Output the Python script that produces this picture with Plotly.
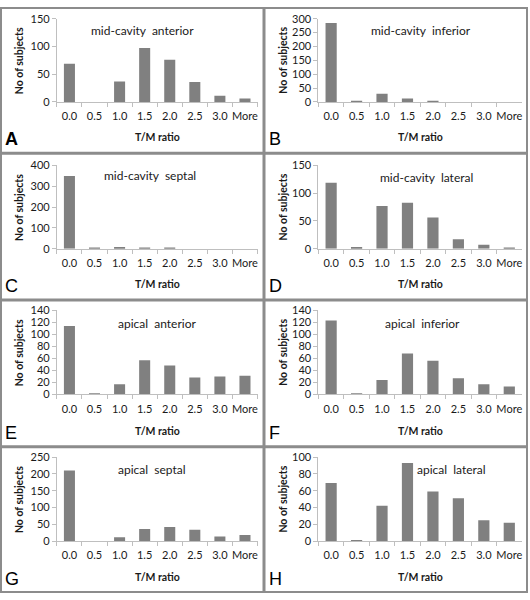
import plotly.graph_objects as go

categories = ["0.0", "0.5", "1.0", "1.5", "2.0", "2.5", "3.0", "More"]

panel_letters = ["A", "B", "C", "D", "E", "F", "G", "H"]
panel_titles = [
    "mid-cavity  anterior", "mid-cavity  inferior",
    "mid-cavity  septal", "mid-cavity  lateral",
    "apical  anterior", "apical  inferior",
    "apical  septal", "apical  lateral",
]

mid_anterior = [69, 0, 37, 97, 76, 36, 11, 6]
mid_inferior = [285, 2, 29, 12, 3, 0, 0, 0]
mid_septal = [350, 1, 8, 5, 1, 0, 0, 0]
mid_lateral = [119, 3, 77, 83, 56, 17, 7, 1]
apical_anterior = [114, 1, 17, 57, 48, 28, 30, 31]
apical_inferior = [123, 1, 24, 68, 56, 27, 17, 13]
apical_septal = [210, 0, 12, 36, 42, 34, 14, 18]
apical_lateral = [69, 1, 42, 93, 59, 51, 25, 22]

series = [mid_anterior, mid_inferior, mid_septal, mid_lateral,
          apical_anterior, apical_inferior, apical_septal, apical_lateral]

y_max = [150, 300, 400, 150, 140, 140, 250, 100]
y_dtick = [50, 50, 100, 50, 20, 20, 50, 20]

x_title = "T/M ratio"
y_title = "No of subjects"

W, H = 530, 600
BAR = "#808080"
AXIS = "#bfbfbf"
FRAME = "#8c8c8c"
FONT = "Lato"
TXT = "#1a1a1a"

fig = go.Figure()

col_x = [(57, 258), (319, 523)]
row_top = [0, 150, 300, 450]
row_plot = [(12, 97), (162, 247), (310, 396), (460, 546)]
title_pos = [(143, 24), (422, 24), (150, 172), (427, 174),
             (157, 323), (423, 323), (152, 473), (452, 473)]


def px(x):
    return x / W


def py(y):
    return 1 - y / H


annotations = []
shapes = []
for i in range(8):
    r, c = divmod(i, 2)
    n = i + 1
    xa = "x" if n == 1 else f"x{n}"
    ya = "y" if n == 1 else f"y{n}"
    fig.add_trace(go.Bar(
        x=categories, y=series[i], marker=dict(color=BAR, line=dict(width=0)),
        xaxis=xa, yaxis=ya, showlegend=False, width=0.44, hoverinfo="skip",
    ))
    x0, x1 = col_x[c]
    yt, yb = row_plot[r]
    xkey = "xaxis" if n == 1 else f"xaxis{n}"
    ykey = "yaxis" if n == 1 else f"yaxis{n}"
    fig.update_layout(**{
        xkey: dict(
            domain=[px(x0), px(x1)], anchor=ya, type="category",
            categoryorder="array", categoryarray=categories,
            range=[-0.5, 7.5], showline=True, linecolor=AXIS, linewidth=1,
            ticks="outside", tickson="boundaries", ticklen=4, tickcolor=AXIS,
            showgrid=False, zeroline=False, ticklabelstandoff=4, tickangle=0,
            tickfont=dict(family=FONT, size=11, color=TXT),
        ),
        ykey: dict(
            domain=[py(yb), py(yt)], anchor=xa, range=[0, y_max[i]],
            dtick=y_dtick[i], tick0=0, showline=True, linecolor=AXIS,
            linewidth=1, ticks="outside", ticklen=4, tickcolor=AXIS,
            showgrid=False, zeroline=False,
            tickfont=dict(family=FONT, size=11, color=TXT),
        ),
    })
    # panel title
    tx, ty = title_pos[i]
    annotations.append(dict(
        text=panel_titles[i], x=px(tx), y=py(ty), xref="paper", yref="paper",
        showarrow=False, xanchor="center", yanchor="middle",
        font=dict(family=FONT, size=12, color=TXT),
    ))
    # x title
    annotations.append(dict(
        text=f"<b>{x_title}</b>", x=px((x0 + x1) / 2), y=py(row_top[r] + 133),
        xref="paper", yref="paper", showarrow=False, xanchor="center",
        yanchor="middle", font=dict(family=FONT, size=10.5, color=TXT),
    ))
    # y title
    annotations.append(dict(
        text=f"<b>{y_title}</b>", x=px(c * 265 + 19), y=py((yt + yb) / 2),
        xref="paper", yref="paper", showarrow=False, xanchor="center",
        yanchor="middle", textangle=-90,
        font=dict(family=FONT, size=10.5, color=TXT),
    ))
    # panel letter
    letter = f"<b>{panel_letters[i]}</b>" if i == 0 else panel_letters[i]
    annotations.append(dict(
        text=letter, x=px(c * 265 + 3), y=py(row_top[r] + 135),
        xref="paper", yref="paper", showarrow=False, xanchor="left",
        yanchor="middle", font=dict(family="Liberation Sans", size=18, color="#000"),
    ))

# frames
for r in range(4):
    for c in range(2):
        x0 = 1 if c == 0 else 265
        x1 = 264 if c == 0 else 528
        y0 = 1 if r == 0 else row_top[r]
        y1 = row_top[r] + 149 if r < 3 else 598
        shapes.append(dict(
            type="rect", xref="paper", yref="paper",
            x0=px(x0), x1=px(x1), y0=py(y1), y1=py(y0),
            line=dict(color=FRAME, width=2), fillcolor="rgba(0,0,0,0)",
        ))

fig.update_layout(
    width=W, height=H, margin=dict(l=0, r=0, t=0, b=0),
    paper_bgcolor="white", plot_bgcolor="white",
    annotations=annotations, shapes=shapes, bargap=0.56,
)

fig.write_html(
    "out.html",
    config={"displayModeBar": False, "responsive": False},
    post_script="document.documentElement.style.margin='0';document.body.style.margin='0';document.body.style.padding='0';document.body.style.overflow='hidden';",
)
